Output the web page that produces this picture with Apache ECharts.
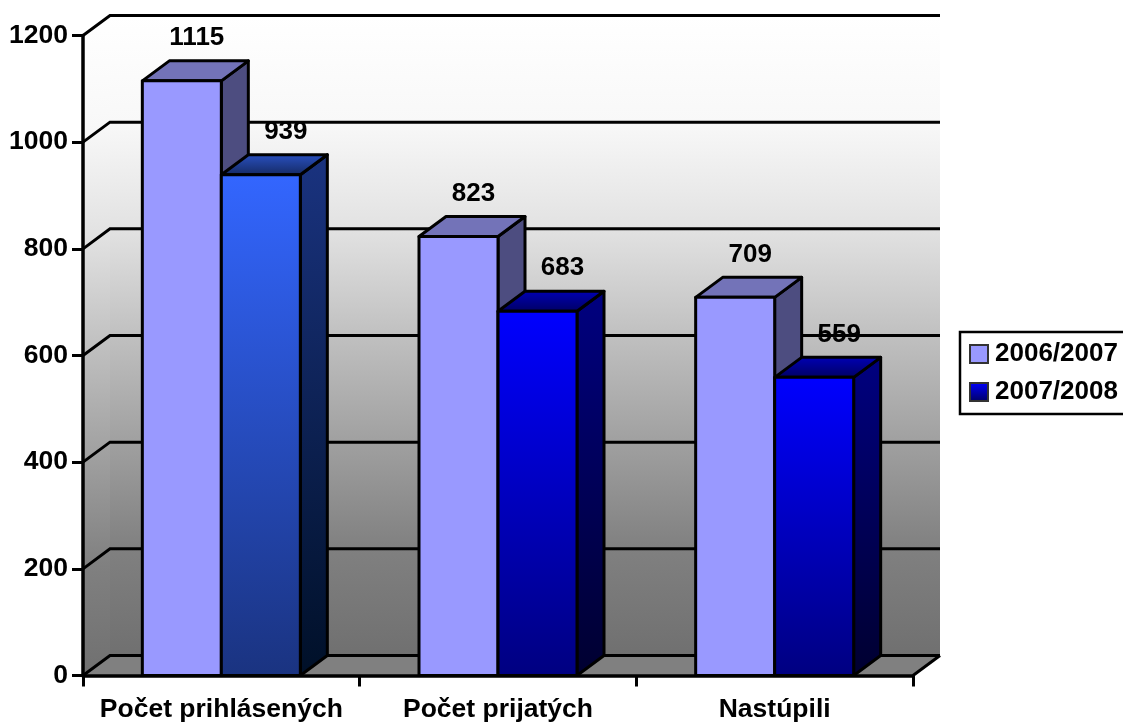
<!DOCTYPE html>
<html>
<head>
<meta charset="utf-8">
<title>Počet prihlásených</title>
<style>
html, body { margin: 0; padding: 0; background: #fff; overflow: hidden; }
#chart { width: 1123px; height: 722px; }
</style>
<script src="https://cdn.jsdelivr.net/npm/echarts@6/dist/echarts.min.js"></script>
</head>
<body>
<div id="chart"></div>
<script>
var categories = ['Počet prihlásených', 'Počet prijatých', 'Nastúpili']
var seriesNames = ['2006/2007', '2007/2008']
var values2006 = [1115, 823, 709]
var values2007 = [939, 683, 559]
var yTicks = [0, 200, 400, 600, 800, 1000, 1200]

var FONT = '"Liberation Sans", Arial, sans-serif'
var FONT_SIZE = 26
var DX = 27 // hloubka 3D
var DY = -20
var BAR_W = 79
var LW = 3
var LG = echarts.graphic.LinearGradient

function grad(top, bottom) {
    return new LG(0, 0, 0, 1, [{ offset: 0, color: top }, { offset: 1, color: bottom }])
}

var lightStyle = { front: '#9999ff', side: '#4d4d80', top: '#7373b8' }
var darkStyle = { front: grad('#0000ff', '#000080'), side: grad('#000080', '#000030'), top: grad('#0000b8', '#000060') }
var firstDarkStyle = { front: grad('#3366ff', '#1a3380'), side: grad('#1a3380', '#001028'), top: grad('#2a52c4', '#142860') }

function poly(points, fill) {
    return {
        type: 'polygon',
        shape: { points: points },
        style: { fill: fill, stroke: '#000', lineWidth: LW, lineJoin: 'round' }
    }
}

function bar3d(offsetX, labelShift, styleOf) {
    return function (params, api) {
        var idx = api.value(0)
        var top = api.coord([idx, api.value(1)])
        var base = api.coord([idx, 0])
        var l = top[0] + offsetX
        var r = l + BAR_W
        var s = styleOf(idx)
        return {
            type: 'group',
            children: [
                poly([[r, top[1]], [r + DX, top[1] + DY], [r + DX, base[1] + DY], [r, base[1]]], s.side),
                poly([[l, top[1]], [l + DX, top[1] + DY], [r + DX, top[1] + DY], [r, top[1]]], s.top),
                poly([[l, top[1]], [r, top[1]], [r, base[1]], [l, base[1]]], s.front),
                {
                    type: 'text',
                    z2: 100,
                    style: {
                        x: l + BAR_W / 2 + labelShift,
                        y: top[1] - 43,
                        text: String(api.value(1)),
                        fill: '#000',
                        font: 'bold ' + FONT_SIZE + 'px ' + FONT,
                        align: 'center',
                        verticalAlign: 'middle'
                    }
                }
            ]
        }
    }
}

var chart = echarts.init(document.getElementById('chart'), null, { renderer: 'canvas' })

chart.setOption({
    animation: false,
    backgroundColor: '#fff',
    grid: { left: 83, top: 35.5, width: 830, height: 640, containLabel: false, outerBoundsMode: 'none' },
    legend: {
        orient: 'vertical',
        left: 960,
        top: 332,
        data: seriesNames,
        padding: [9, 12, 9, 9],
        itemGap: 12,
        itemWidth: 18,
        itemHeight: 18,
        borderColor: '#000',
        borderWidth: 2.5,
        backgroundColor: '#fff',
        icon: 'rect',
        textStyle: { color: '#000', fontFamily: FONT, fontWeight: 'bold', fontSize: FONT_SIZE, padding: [0, 0, 0, 2] }
    },
    xAxis: {
        type: 'category',
        data: categories,
        z: 5,
        axisLine: { lineStyle: { color: '#000', width: 3.5 } },
        axisTick: { show: true, length: 11, alignWithLabel: false, lineStyle: { color: '#000', width: 3 } },
        axisLabel: { color: '#000', fontFamily: FONT, fontWeight: 'bold', fontSize: 26.5, margin: 21, interval: 0 },
        splitLine: { show: false }
    },
    yAxis: {
        type: 'value',
        min: 0,
        max: 1200,
        interval: 200,
        z: 5,
        axisLine: { show: true, lineStyle: { color: '#000', width: 3.5 } },
        axisTick: { show: true, length: 11, lineStyle: { color: '#000', width: 3 } },
        axisLabel: {
            color: '#000', fontFamily: FONT, fontWeight: 'bold', fontSize: 26.5, margin: 15,
            padding: [4, 0, 0, 0],
            formatter: function (v) { return String(v) }
        },
        splitLine: { show: false }
    },
    series: [
        {
            // steny a podlaha
            type: 'custom',
            name: 'wall',
            z: 0,
            silent: true,
            data: [[0]],
            renderItem: function (params, api) {
                var c = params.coordSys
                var x0 = c.x, x1 = c.x + c.width, y0 = c.y, y1 = c.y + c.height
                var wall = new LG(0, 0, 0, 1, [
                    { offset: 0, color: '#ffffff' },
                    { offset: 0.167, color: '#f8f8f8' },
                    { offset: 0.333, color: '#e2e2e2' },
                    { offset: 0.5, color: '#c0c0c0' },
                    { offset: 0.667, color: '#a0a0a0' },
                    { offset: 0.833, color: '#808080' },
                    { offset: 1, color: '#707070' }
                ])
                return {
                    type: 'group',
                    children: [
                        { type: 'polygon', shape: { points: [[x0 + DX, y0 + DY], [x1 + DX, y0 + DY], [x1 + DX, y1 + DY], [x0 + DX, y1 + DY]] }, style: { fill: wall } },
                        { type: 'polygon', shape: { points: [[x0, y0], [x0 + DX, y0 + DY], [x0 + DX, y1 + DY], [x0, y1]] }, style: { fill: wall } },
                        { type: 'polygon', shape: { points: [[x0, y1], [x0 + DX, y1 + DY], [x1 + DX, y1 + DY], [x1, y1]] }, style: { fill: '#808080' } },
                        { type: 'line', shape: { x1: x1, y1: y1, x2: x1 + DX, y2: y1 + DY }, style: { stroke: '#000', lineWidth: LW } }
                    ]
                }
            }
        },
        {
            // mriezka na zadnej stene
            type: 'custom',
            name: 'gridlines',
            z: 1,
            silent: true,
            data: yTicks.map(function (v) { return [0, v] }),
            encode: { y: 1 },
            renderItem: function (params, api) {
                var c = params.coordSys
                var y = api.coord([0, api.value(1)])[1]
                return {
                    type: 'polyline',
                    shape: { points: [[c.x, y], [c.x + DX, y + DY], [c.x + c.width + DX, y + DY]] },
                    style: { stroke: '#000', lineWidth: LW, fill: null }
                }
            }
        },
        {
            type: 'custom',
            name: seriesNames[0],
            z: 2,
            itemStyle: { color: '#9999ff', borderColor: '#333', borderWidth: 2 },
            data: values2006.map(function (v, i) { return [i, v] }),
            encode: { x: 0, y: 1 },
            renderItem: bar3d(-BAR_W, 15, function () { return lightStyle })
        },
        {
            type: 'custom',
            name: seriesNames[1],
            z: 3,
            itemStyle: { color: grad('#0000ff', '#000060'), borderColor: '#333', borderWidth: 2 },
            data: values2007.map(function (v, i) { return [i, v] }),
            encode: { x: 0, y: 1 },
            renderItem: bar3d(0, 25, function (i) { return i === 0 ? firstDarkStyle : darkStyle })
        }
    ]
})
</script>
</body>
</html>
